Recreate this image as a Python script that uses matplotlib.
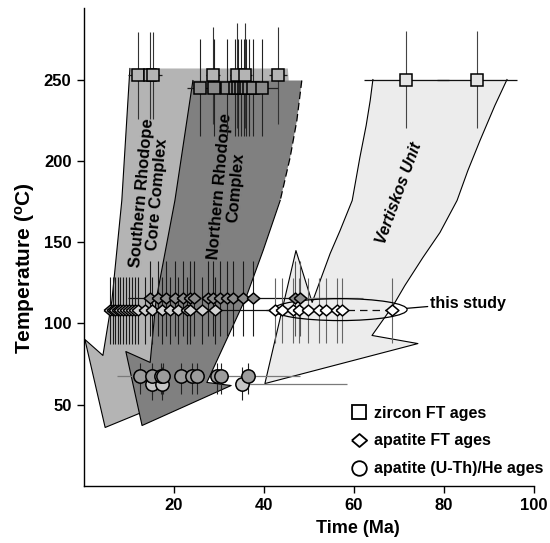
import matplotlib
matplotlib.use("Agg")
import matplotlib.pyplot as plt
from matplotlib.patches import Polygon, Ellipse
from matplotlib.lines import Line2D
import numpy as np

plt.rcParams['font.family'] = ['Liberation Sans', 'DejaVu Sans']
plt.rcParams['font.weight'] = 'bold'
plt.rcParams['mathtext.fontset'] = 'custom'
plt.rcParams['mathtext.rm'] = 'Liberation Sans:bold'
plt.rcParams['mathtext.bf'] = 'Liberation Sans:bold'
plt.rcParams['mathtext.it'] = 'Liberation Sans:bold'

# ---------------- cooling-path envelopes (Ma, degC) ----------------
srcc_ma = [10.2, 45.3, 45.8, 41.3, 34.7, 25.8, 4.7, 0.2, 4.2, 6.2, 8.4]
srcc_t = [256.8, 256.8, 237.1, 175.6, 114.1, 60.0, 36.0, 90.1, 80.3, 114.1, 175.6]

nrc_ma = [24.2, 48.4, 47.3, 45.8, 43.6, 39.8, 36.0, 27.3, 32.7, 12.9, 9.3, 14.7, 16.0, 20.2]
nrc_t = [249.4, 249.4, 224.8, 202.0, 175.6, 144.8, 115.9, 63.7, 61.8, 37.2, 82.7, 76.0, 114.1, 175.6]

vert_ma = [64.2, 94.0, 91.3, 88.0, 85.3, 82.9, 79.1, 75.3, 71.3, 68.7, 64.0, 74.2, 40.2, 47.1,
           50.7, 54.7, 56.9, 59.6, 61.3, 62.7, 63.6]
vert_t = [250.0, 250.0, 234.0, 212.5, 194.0, 175.6, 155.9, 140.5, 123.3, 111.0, 92.6, 87.6, 63.0,
          144.8, 112.9, 143.0, 157.1, 175.6, 202.0, 221.7, 237.1]

# ---------------- zircon FT ages ----------------
zft1_ma = [12.0, 14.6, 15.3, 28.7, 34.0, 35.8, 43.1]
zft1_t = [252.5] * 7
zft1_xerr = [2.2, 1.0, 2.0, 1.5, 1.5, 1.5, 2.0]
zft1_yerr = [27, 27, 27, 30, 32, 32, 30]

zft2_ma = [25.8, 28.9, 31.8, 33.6, 34.3, 34.9, 35.5, 36.1, 36.6, 37.6, 39.6]
zft2_t = [245.0] * 11
zft2_xerr = [2.9, 1.5, 1.5, 1.0, 1.0, 1.0, 1.0, 1.0, 1.0, 1.5, 3.5]
zft2_yerr = [30, 30, 30, 30, 30, 30, 30, 30, 30, 30, 30]

zftv_ma = [71.6, 87.3]
zftv_t = [250.0, 250.0]
zftv_xerr = [9.4, 8.9]
zftv_yerr = [30, 30]

# ---------------- apatite FT ages ----------------
aft1_ma = [14.7, 16.4, 18.2, 20.2, 22.0, 23.6, 24.4, 27.6, 28.7, 30.2, 31.8, 33.1, 35.3, 37.6]
aft1_t = [115.5] * 14
aft1_xlo = [5.0, 1, 1, 1, 1, 1, 1, 1, 1, 1, 1, 1, 1, 1]
aft1_xhi = [1, 1, 1, 1, 1, 1, 1, 1, 1, 1, 1, 1, 1, 9.3]
aft1_yerr = 23

aft1v_ma = [46.9, 48.0]
aft1v_t = [115.5, 115.5]
aft1v_xhi = [14.0, 14.0]

aft2_ma = [5.8, 6.5, 6.9, 7.5, 8.0, 8.7, 9.3, 10.0, 10.7, 11.4, 12.0, 13.6, 15.1, 17.3,
           19.1, 20.9, 22.9, 23.6, 26.2, 29.1]
aft2_t = [108.0] * 20
aft2_xhi = [1] * 19 + [13.0]
aft2_yerr = 20.5

aftv_ma = [42.4, 44.0, 46.4, 47.8, 49.8, 52.2, 53.8, 56.2, 57.3, 68.4]
aftv_t = [108.0] * 10
aftv_xerr = [2, 2, 2, 2, 2, 2, 2, 2, 1.1, 1]
aftv_dash_lo = 10.0   # dashed error bar left of the oldest sample
aftv_yerr = 20

# ---------------- apatite (U-Th)/He ages ----------------
ahe1_ma = [12.4, 15.0, 17.0, 17.6, 21.6, 24.0, 25.1, 29.6, 30.4, 36.4]
ahe1_t = [67.5] * 10
ahe1_xlo = [5.0, 1, 1, 1, 1, 1, 1, 1, 1, 1]
ahe1_xhi = [1, 1, 1, 1, 1, 1, 1, 1, 5.0, 11.6]
ahe1_ylo = 11
ahe1_yhi = 8

ahe2_ma = [15.1, 17.3, 35.1]
ahe2_t = [63.0, 63.0, 63.0]
ahe2_xlo = [3.3, 1, 1]
ahe2_xhi = [1, 1, 23.3]
ahe2_yerr = 10

study_center = (56.9, 108.5)
study_size = (29.8, 13.5)

xticks = [20, 40, 60, 80, 100]
yticks = [50, 100, 150, 200, 250]

# ---------------- figure ----------------
fig = plt.figure(figsize=(5.5, 5.43), dpi=100)
ax = fig.add_axes([84 / 550, 1 - 486 / 543, 450 / 550, 478 / 543])
ax.set_xlim(0, 100)
ax.set_ylim(0, 294)

def envelope(mas, ts, color, z, solid_idx, dashed_idx=None):
    pts = np.column_stack([mas, ts])
    ax.add_patch(Polygon(pts, closed=True, facecolor=color, edgecolor='none', zorder=z))
    sp = pts[solid_idx]
    ax.plot(sp[:, 0], sp[:, 1], color='black', lw=0.8, zorder=z + 0.1)
    if dashed_idx is not None:
        dp = pts[dashed_idx]
        ax.plot(dp[:, 0], dp[:, 1], color='black', lw=0.9, ls=(0, (6, 3)), zorder=z + 0.1)

envelope(srcc_ma, srcc_t, '#b4b4b4', 1, [5, 6, 7, 8, 9, 10, 0])
envelope(vert_ma, vert_t, '#ececec', 1, list(range(1, len(vert_ma))) + [0])
envelope(nrc_ma, nrc_t, '#808080', 2, [4, 5, 6, 7, 8, 9, 10, 11, 12, 13, 0], [1, 2, 3, 4])

ax.text(14.6, 180, 'Southern Rhodope\nCore Complex', rotation=85, rotation_mode='anchor',
        ha='center', va='center', fontsize=12, fontweight='bold', linespacing=1.0, zorder=3)
ax.text(31.9, 184, 'Northern Rhodope\nComplex', rotation=85, rotation_mode='anchor',
        ha='center', va='center', fontsize=12, fontweight='bold', linespacing=1.1, zorder=3)
ax.text(70.0, 180, 'Vertiskos Unit', rotation=70, rotation_mode='anchor',
        ha='center', va='center', fontsize=11.5, fontweight='bold', style='italic', zorder=3)

diamond = [(-1, 0), (0, 0.85), (1, 0), (0, -0.85), (-1, 0)]

def bars(mas, ts, xlo, xhi, ylo, yhi, hcol='#222222', vcol='#222222', z=4, hls='-'):
    mas = np.asarray(mas, float); ts = np.asarray(ts, float)
    xlo = np.broadcast_to(np.asarray(xlo, float), mas.shape)
    xhi = np.broadcast_to(np.asarray(xhi, float), mas.shape)
    ylo = np.broadcast_to(np.asarray(ylo, float), mas.shape)
    yhi = np.broadcast_to(np.asarray(yhi, float), mas.shape)
    ax.vlines(mas, ts - ylo, ts + yhi, colors=vcol, lw=0.8, zorder=z)
    ax.hlines(ts, mas - xlo, mas + xhi, colors=hcol, lw=0.9, zorder=z, linestyles=hls)

def marks(mas, ts, marker, fc, size, z=5):
    ax.plot(mas, ts, ls='none', marker=marker, ms=size, mfc=fc, mec='black', mew=1.1, zorder=z)

# zircon
bars(zft1_ma, zft1_t, zft1_xerr, zft1_xerr, zft1_yerr, zft1_yerr, vcol='#333333')
bars(zft2_ma, zft2_t, zft2_xerr, zft2_xerr, zft2_yerr, zft2_yerr, vcol='#222222')
bars(zftv_ma, zftv_t, zftv_xerr, zftv_xerr, zftv_yerr, zftv_yerr, hcol='#111111', vcol='#444444')
marks(zft1_ma, zft1_t, 's', '#b4b4b4', 9.2)
marks(zft2_ma, zft2_t, 's', '#8c8c8c', 9.2)
marks(zftv_ma, zftv_t, 's', '#e4e4e4', 9.2)

# apatite FT
bars(aft1_ma, aft1_t, aft1_xlo, aft1_xhi, aft1_yerr, aft1_yerr, hcol='#111111', vcol='#1a1a1a')
bars(aft1v_ma, aft1v_t, 1, aft1v_xhi, 23, 23, hcol='#8a8a8a', vcol='#555555')
bars(aft2_ma, aft2_t, 1, aft2_xhi, aft2_yerr, aft2_yerr, hcol='#111111', vcol='#1a1a1a')
bars(aftv_ma, aftv_t, aftv_xerr, aftv_xerr, aftv_yerr, aftv_yerr, hcol='#111111', vcol='#666666')
ax.hlines(aftv_t[-1], aftv_ma[-1] - aftv_dash_lo, aftv_ma[-1], colors='#111111', lw=0.9,
          linestyles=(0, (6, 4)), zorder=4)
ax.add_patch(Ellipse(study_center, study_size[0], study_size[1], fill=False,
                     edgecolor='black', lw=0.9, zorder=4.5))
marks(aft2_ma, aft2_t, diamond, '#d2d2d2', 9.2)
marks(aftv_ma, aftv_t, diamond, 'white', 9.2)
marks(aft1_ma, aft1_t, diamond, '#8c8c8c', 9.2)
marks(aft1v_ma, aft1v_t, diamond, '#8c8c8c', 9.2)

# apatite (U-Th)/He
bars(ahe2_ma, ahe2_t, ahe2_xlo, ahe2_xhi, ahe2_yerr, ahe2_yerr, hcol='#7a7a7a', vcol='#222222')
bars(ahe1_ma, ahe1_t, ahe1_xlo, ahe1_xhi, ahe1_ylo, ahe1_yhi, hcol='#7a7a7a', vcol='#222222')
marks(ahe2_ma, ahe2_t, 'o', '#c6c6c6', 9.6)
marks(ahe1_ma, ahe1_t, 'o', '#9c9c9c', 9.6)

# "this study" label
ax.annotate('this study', xy=(study_center[0] + study_size[0] / 2, study_center[1] + 0.8),
            xytext=(77.0, 112.5), ha='left', va='center', fontsize=11.5, fontweight='bold',
            arrowprops=dict(arrowstyle='-', color='black', lw=0.9, shrinkA=0, shrinkB=0), zorder=6)

# legend
handles = [Line2D([], [], ls='none', marker='s', ms=10, mfc='white', mec='black', mew=1.3),
           Line2D([], [], ls='none', marker=diamond, ms=11, mfc='white', mec='black', mew=1.3),
           Line2D([], [], ls='none', marker='o', ms=10.5, mfc='white', mec='black', mew=1.3)]
leg = ax.legend(handles, ['zircon FT ages', 'apatite FT ages', 'apatite (U-Th)/He ages'],
                loc='upper left', bbox_to_anchor=(0.594, 0.168), frameon=False,
                prop={'size': 11.5, 'weight': 'bold'}, handlelength=1.0, handletextpad=0.45,
                labelspacing=0.8, borderpad=0, borderaxespad=0)

# axes styling
for s in ['top', 'right']:
    ax.spines[s].set_visible(False)
for s in ['left', 'bottom']:
    ax.spines[s].set_linewidth(1.0)
ax.set_xticks(xticks)
ax.set_yticks(yticks)
ax.tick_params(direction='out', length=5, width=1, labelsize=12, pad=4)
for lab in ax.get_xticklabels() + ax.get_yticklabels():
    lab.set_fontweight('bold')
ax.set_xlabel('Time (Ma)', fontsize=13, fontweight='bold')
ax.set_ylabel(r'Temperature ($^{\mathrm{o}}$C)', fontsize=15, fontweight='bold')
ax.xaxis.set_label_coords(0.609, -0.072)
ax.yaxis.set_label_coords(-0.105, 0.457)

fig.savefig('out.png', dpi=100)
